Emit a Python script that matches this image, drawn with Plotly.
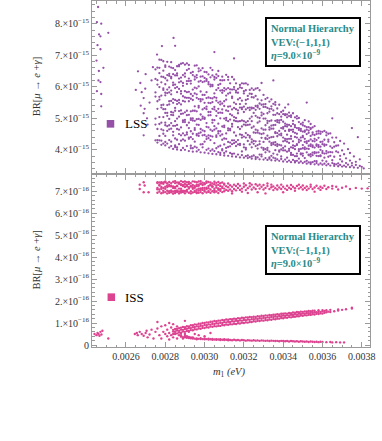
import plotly.graph_objects as go
from plotly.subplots import make_subplots

# m1 in units of 1e-4 eV; LSS branching ratio in units of 1e-15, ISS in units of 1e-16
# each entry: (m1, [BR values read in that m1 column])

lss_sparse = [
    (24.58, [8.53]), (24.52, [8.05, 5.86]), (24.74, [8.0, 5.77, 5.38]), (24.63, [7.66]),
    (24.7, [7.6, 7.19, 6.15]), (25.1, [7.71]), (24.55, [7.32]), (24.5, [6.83]),
    (24.85, [6.6]), (24.62, [6.5]), (24.6, [6.2]),
    (26.61, [6.49]), (26.73, [6.12]), (26.98, [5.94]), (26.8, [5.83]), (26.9, [5.64, 5.16, 4.46]),
    (26.75, [5.4]), (26.95, [5.3]), (27.07, [5.0]), (27.37, [6.62]), (27.58, [7.02]),
    (27.83, [7.29]), (28.42, [7.55]), (28.5, [7.3]), (27.2, [5.5]), (27.1, [4.8]),
    (27.3, [6.2]), (26.5, [5.9]), (27.0, [6.4]), (30.5, [7.1]), (31.5, [6.9]),
    (32.9, [6.12]), (33.5, [6.2]), (34.26, [5.44]), (35.2, [5.5]), (36.5, [5.0]),
    (37.5, [4.69]), (37.8, [4.4]),
]

lss_core = [
    (27.5, [4.3, 4.8, 4.99, 5.69, 5.82, 6.25, 6.55]),
    (27.6, [4.23, 4.31, 4.66, 5.3, 5.54, 6.07, 6.21, 6.61]),
    (27.7, [4.3, 4.44, 4.82, 5.04, 5.59, 5.68, 5.99, 6.43, 6.6, 6.86]),
    (27.8, [4.16, 4.29, 4.65, 4.86, 5.34, 5.42, 5.72, 6.14, 6.32, 6.85]),
    (27.9, [4.2, 4.51, 4.62, 5.04, 5.29, 5.43, 5.9, 5.95, 6.31, 6.51, 6.81]),
    (28.0, [4.14, 4.25, 4.44, 4.78, 4.86, 5.17, 5.29, 5.73, 5.81, 6.08, 6.27, 6.63, 6.68]),
    (28.1, [4.2, 4.6, 4.75, 5.08, 5.17, 5.42, 5.8, 5.91, 6.2, 6.37, 6.79]),
    (28.2, [4.07, 4.31, 4.65, 4.78, 4.98, 5.44, 5.54, 5.82, 5.98, 6.35, 6.41, 6.64]),
    (28.3, [4.12, 4.26, 4.67, 4.85, 5.11, 5.2, 5.55, 5.76, 5.88, 6.27, 6.31, 6.61, 6.78]),
    (28.4, [4.03, 4.46, 4.57, 4.76, 5.1, 5.18, 5.49, 5.61, 6.05, 6.13, 6.4, 6.59]),
    (28.5, [4.09, 4.14, 4.36, 4.76, 4.91, 5.24, 5.33, 5.58, 5.96, 6.07, 6.36, 6.53]),
    (28.6, [4.01, 4.08, 4.32, 4.66, 4.79, 4.99, 5.45, 5.55, 5.83, 5.99, 6.36, 6.42, 6.65]),
    (28.7, [4.18, 4.5, 4.64, 5.05, 5.23, 5.49, 5.58, 5.93, 6.14, 6.26, 6.65, 6.69]),
    (28.8, [3.99, 4.29, 4.46, 4.71, 5.14, 5.25, 5.44, 5.78, 5.86, 6.17, 6.29, 6.73]),
    (28.9, [4.06, 4.33, 4.52, 4.88, 4.93, 5.15, 5.55, 5.7, 6.03, 6.12, 6.37, 6.75]),
    (29.0, [4.0, 4.29, 4.46, 4.88, 4.95, 5.19, 5.53, 5.66, 5.86, 6.32, 6.42, 6.7]),
    (29.1, [4.12, 4.49, 4.55, 4.78, 5.1, 5.24, 5.65, 5.83, 6.09, 6.18, 6.53, 6.74]),
    (29.2, [3.96, 4.35, 4.39, 4.69, 4.86, 5.11, 5.54, 5.65, 5.84, 6.18, 6.26, 6.57, 6.69]),
    (29.3, [4.05, 4.13, 4.4, 4.59, 4.95, 5.0, 5.22, 5.62, 5.77, 6.1, 6.19, 6.44]),
    (29.4, [3.94, 4.05, 4.34, 4.51, 4.93, 5.0, 5.24, 5.58, 5.71, 5.91, 6.37, 6.47]),
    (29.5, [4.1, 4.26, 4.63, 4.69, 4.92, 5.24, 5.38, 5.79, 5.97, 6.23, 6.32, 6.67]),
    (29.6, [3.95, 4.07, 4.46, 4.5, 4.8, 4.97, 5.22, 5.65, 5.76, 5.95, 6.29, 6.37, 6.68]),
    (29.7, [4.0, 4.44, 4.52, 4.79, 4.98, 5.34, 5.39, 5.61, 6.01, 6.16, 6.49, 6.58]),
    (29.8, [3.92, 4.17, 4.55, 4.66, 4.95, 5.12, 5.54, 5.61, 5.85, 6.19, 6.32, 6.52]),
    (29.9, [4.08, 4.18, 4.46, 4.62, 4.99, 5.05, 5.28, 5.6, 5.74, 6.15, 6.33, 6.59]),
    (30.0, [3.91, 4.26, 4.47, 4.59, 4.98, 5.02, 5.32, 5.49, 5.74, 6.17, 6.28, 6.47]),
    (30.1, [4.0, 4.34, 4.42, 4.73, 4.85, 5.29, 5.37, 5.64, 5.83, 6.19, 6.24, 6.46]),
    (30.2, [3.89, 4.04, 4.37, 4.46, 4.71, 5.09, 5.2, 5.49, 5.66, 6.08, 6.15, 6.39]),
    (30.3, [3.97, 4.31, 4.44, 4.64, 5.1, 5.2, 5.48, 5.64, 6.01, 6.07, 6.3, 6.6]),
    (30.4, [3.87, 4.01, 4.42, 4.6, 4.86, 4.95, 5.3, 5.51, 5.63, 6.02, 6.06, 6.36, 6.53]),
    (30.5, [3.96, 4.21, 4.64, 4.75, 4.94, 5.28, 5.36, 5.67, 5.79, 6.23, 6.31]),
    (30.6, [3.86, 4.05, 4.41, 4.46, 4.68, 5.08, 5.23, 5.56, 5.65, 5.9, 6.28, 6.39]),
    (30.7, [3.93, 4.1, 4.52, 4.59, 4.83, 5.17, 5.3, 5.5, 5.96, 6.06, 6.34, 6.5]),
    (30.8, [3.84, 3.9, 4.13, 4.45, 4.59, 5.0, 5.18, 5.44, 5.53, 5.88, 6.09, 6.21]),
    (30.9, [3.98, 4.02, 4.32, 4.49, 4.74, 5.17, 5.28, 5.47, 5.81, 5.89, 6.2, 6.32]),
    (31.0, [3.82, 3.9, 4.17, 4.36, 4.72, 4.77, 4.99, 5.39, 5.54, 5.87, 5.96, 6.21]),
    (31.1, [3.95, 4.06, 4.35, 4.52, 4.94, 5.01, 5.25, 5.59, 5.72, 5.92, 6.38]),
    (31.2, [3.81, 4.09, 4.25, 4.62, 4.68, 4.91, 5.23, 5.37, 5.78, 5.96, 6.22, 6.31]),
    (31.3, [3.9, 4.11, 4.23, 4.62, 4.66, 4.96, 5.13, 5.38, 5.81, 5.92, 6.11]),
    (31.4, [3.79, 3.87, 4.18, 4.3, 4.74, 4.82, 5.09, 5.28, 5.64, 5.69, 5.91, 6.31]),
    (31.5, [3.88, 4.21, 4.3, 4.55, 4.93, 5.04, 5.33, 5.5, 5.92, 5.99, 6.23]),
    (31.6, [3.78, 4.12, 4.25, 4.45, 4.91, 5.01, 5.29, 5.45, 5.82, 5.88, 6.11]),
    (31.7, [3.85, 4.17, 4.31, 4.72, 4.9, 5.16, 5.25, 5.6, 5.81, 5.93]),
    (31.8, [3.76, 4.15, 4.19, 4.49, 4.66, 4.91, 5.34, 5.45, 5.64, 5.98, 6.06]),
    (31.9, [3.83, 3.95, 4.39, 4.47, 4.74, 4.93, 5.29, 5.34, 5.56, 5.96, 6.11]),
    (32.0, [3.75, 4.08, 4.17, 4.42, 4.8, 4.91, 5.2, 5.37, 5.79, 5.86, 6.1]),
    (32.1, [3.8, 4.01, 4.06, 4.39, 4.53, 4.78, 4.87, 5.28, 5.46, 5.58, 5.89, 6.11]),
    (32.2, [3.74, 3.82, 4.28, 4.47, 4.79, 4.91, 5.33, 5.61, 5.71, 6.07]),
    (32.3, [3.77, 4.17, 4.39, 4.44, 4.8, 4.99, 5.26, 5.34, 5.78, 5.9]),
    (32.4, [3.72, 3.79, 4.08, 4.24, 4.33, 4.7, 4.91, 5.05, 5.31, 5.34, 5.67, 5.77, 5.95]),
    (32.5, [3.82, 4.19, 4.28, 4.55, 4.74, 5.17, 5.32, 5.66, 5.9]),
    (32.6, [3.71, 3.77, 4.12, 4.27, 4.54, 4.64, 5.08, 5.27, 5.39, 5.71, 5.94]),
    (32.7, [3.76, 4.04, 4.15, 4.55, 4.62, 4.86, 5.03, 5.35, 5.4, 5.6, 5.96]),
    (32.8, [3.7, 3.85, 4.18, 4.27, 4.52, 4.9, 5.01, 5.3, 5.47, 5.89]),
    (32.9, [3.79, 3.85, 4.07, 4.38, 4.5, 4.68, 5.09, 5.18, 5.43, 5.57]),
    (33.0, [3.69, 4.0, 4.05, 4.25, 4.52, 4.64, 4.99, 5.14, 5.36, 5.44, 5.74]),
    (33.1, [3.74, 3.92, 4.02, 4.35, 4.38, 4.64, 4.78, 4.99, 5.36, 5.45, 5.61]),
    (33.2, [3.68, 3.99, 4.06, 4.34, 4.45, 4.85, 4.92, 5.16, 5.33, 5.65]),
    (33.3, [3.72, 3.76, 3.94, 4.26, 4.38, 4.64, 4.71, 4.91, 5.21, 5.3, 5.53]),
    (33.4, [3.67, 3.81, 4.15, 4.21, 4.4, 4.67, 4.77, 4.93, 5.3, 5.38, 5.6]),
    (33.5, [3.75, 3.88, 4.18, 4.23, 4.41, 4.67, 4.78, 5.11, 5.25, 5.46]),
    (33.6, [3.66, 3.73, 3.99, 4.15, 4.24, 4.53, 4.56, 4.79, 4.92, 5.11, 5.43, 5.51]),
    (33.7, [3.7, 3.85, 4.12, 4.18, 4.43, 4.53, 4.88, 4.94, 5.16, 5.31]),
    (33.8, [3.65, 3.94, 3.98, 4.16, 4.48, 4.6, 4.86, 4.93, 5.13, 5.43]),
    (33.9, [3.71, 3.79, 4.01, 4.14, 4.46, 4.51, 4.69, 4.95, 5.05, 5.2]),
    (34.0, [3.63, 3.98, 4.06, 4.27, 4.39, 4.67, 4.72, 4.89, 5.13, 5.24]),
    (34.1, [3.69, 3.98, 4.11, 4.29, 4.35, 4.6, 4.75, 4.83, 5.1, 5.13, 5.34]),
    (34.2, [3.62, 3.75, 3.94, 4.26, 4.34, 4.48, 4.74, 4.8, 5.03, 5.12]),
    (34.3, [3.66, 3.97, 4.03, 4.22, 4.35, 4.6, 4.64, 4.79, 5.07, 5.18]),
    (34.4, [3.61, 3.84, 3.9, 4.08, 4.35, 4.43, 4.63, 4.75, 5.04, 5.09]),
    (34.5, [3.68, 3.84, 4.06, 4.14, 4.27, 4.57, 4.64, 4.82, 4.92, 5.16]),
    (34.6, [3.6, 3.64, 3.8, 4.02, 4.12, 4.41, 4.54, 4.72, 4.78, 5.03]),
    (34.7, [3.65, 3.8, 3.88, 4.15, 4.18, 4.39, 4.51, 4.69, 4.99, 5.07]),
    (34.8, [3.59, 3.72, 3.96, 4.02, 4.24, 4.32, 4.63, 4.69, 4.88, 5.01]),
    (34.9, [3.63, 3.86, 3.89, 4.03, 4.29, 4.39, 4.6, 4.66, 4.82]),
    (35.0, [3.58, 3.81, 3.88, 4.05, 4.15, 4.4, 4.44, 4.58, 4.78, 4.86]),
    (35.1, [3.62, 3.74, 4.02, 4.08, 4.25, 4.35, 4.57, 4.61, 4.75, 4.94]),
    (35.2, [3.56, 3.65, 3.92, 4.04, 4.21, 4.27, 4.5, 4.64, 4.72]),
    (35.3, [3.6, 3.83, 3.85, 4.03, 4.13, 4.28, 4.54, 4.61, 4.72, 4.9]),
    (35.4, [3.55, 3.6, 3.79, 3.86, 4.12, 4.17, 4.33, 4.44, 4.66, 4.69, 4.82]),
    (35.5, [3.61, 3.83, 3.91, 4.09, 4.14, 4.28, 4.49, 4.55, 4.71]),
    (35.6, [3.54, 3.64, 3.89, 3.93, 4.07, 4.27, 4.35, 4.47, 4.75]),
    (35.7, [3.58, 3.64, 3.81, 3.91, 4.13, 4.17, 4.31, 4.5, 4.58]),
    (35.8, [3.53, 3.8, 3.92, 4.09, 4.15, 4.38, 4.52, 4.6]),
    (35.9, [3.57, 3.8, 3.82, 4.0, 4.1, 4.25, 4.51, 4.58]),
    (36.0, [3.53, 3.66, 3.9, 3.96, 4.18, 4.26, 4.57]),
    (36.1, [3.56, 3.75, 3.88, 4.13, 4.17, 4.32, 4.6]),
    (36.2, [3.51, 3.63, 3.89, 3.96, 4.16, 4.46, 4.55]),
    (36.3, [3.55, 3.78, 3.92, 4.26, 4.32, 4.51]),
    (36.4, [3.5, 3.81, 3.93, 4.11, 4.52]),
    (36.5, [3.58, 3.67, 3.92, 4.06, 4.39]),
    (36.6, [3.49, 3.55, 3.78, 4.1, 4.24]),
    (36.7, [3.54, 3.95, 4.13, 4.39]),
    (36.8, [3.48, 3.57, 3.92, 4.14]),
    (36.9, [3.52, 3.7, 3.81, 4.28]),
    (37.0, [3.47, 3.63, 3.98]),
    (37.1, [3.5, 3.86, 4.2]),
    (37.2, [3.46, 3.58, 3.73]),
    (37.3, [3.53, 4.02]),
    (37.4, [3.45, 3.66, 3.9]),
    (37.5, [3.5, 3.58]),
    (37.6, [3.44, 3.79]),
    (37.7, [3.52, 3.62]),
    (37.8, [3.43]),
    (37.9, [3.49, 3.7]),
    (38.0, [3.46]),
    (38.1, [3.41]),
]

iss_band = [
    (26.7, [7.1, 7.3]), (26.9, [7.41, 6.95]), (26.95, [7.26]), (27.15, [6.95]),
    (27.6, [6.93, 7.09, 7.15, 7.37, 7.41]), (27.7, [6.98, 7.08, 7.26, 7.29, 7.4]),
    (27.8, [6.91, 7.11, 7.19, 7.36, 7.41]), (27.9, [6.94, 7.02, 7.15, 7.34, 7.4]),
    (28.0, [6.96, 7.11, 7.2, 7.41, 7.45]), (28.1, [6.9, 7.02, 7.19, 7.26, 7.36]),
    (28.2, [6.93, 7.0, 7.23, 7.28, 7.42]), (28.3, [6.95, 7.03, 7.22, 7.25, 7.37]),
    (28.4, [6.89, 6.99, 7.15, 7.22, 7.43]), (28.5, [6.92, 7.01, 7.14, 7.19, 7.37, 7.46]),
    (28.6, [6.97, 7.03, 7.23, 7.25, 7.4]), (28.7, [6.9, 6.99, 7.12, 7.34, 7.4]),
    (28.8, [6.94, 7.01, 7.11, 7.28, 7.32, 7.46]), (28.9, [6.96, 7.02, 7.24, 7.28, 7.42]),
    (29.0, [6.91, 7.01, 7.19, 7.22, 7.33, 7.44]), (29.1, [6.98, 7.06, 7.23, 7.28, 7.41]),
    (29.2, [6.93, 7.12, 7.18, 7.33, 7.42]), (29.3, [6.9, 7.0, 7.21, 7.25, 7.37]),
    (29.4, [6.94, 7.11, 7.18, 7.28, 7.45]), (29.5, [6.97, 7.02, 7.16, 7.24, 7.43]),
    (29.6, [6.92, 6.95, 7.07, 7.23, 7.3, 7.41]), (29.7, [6.93, 7.03, 7.12, 7.25, 7.3, 7.44]),
    (29.8, [6.96, 7.07, 7.13, 7.33, 7.35, 7.46]), (29.9, [6.91, 7.06, 7.15, 7.28, 7.39]),
    (30.0, [6.99, 7.05, 7.15, 7.32, 7.36]), (30.1, [6.94, 7.1, 7.16, 7.38, 7.45]),
    (30.2, [6.97, 7.01, 7.14, 7.24, 7.42]), (30.3, [6.93, 7.08, 7.27, 7.3, 7.4]),
    (30.4, [7.0, 7.19, 7.23, 7.35]), (30.5, [6.95, 7.04, 7.11, 7.32, 7.43]),
    (30.6, [6.99, 7.17, 7.26, 7.38]), (30.7, [6.92, 7.07, 7.13, 7.29, 7.42]),
    (30.8, [7.02, 7.09, 7.24, 7.36]), (30.9, [6.96, 7.15, 7.21, 7.4]),
    (31.0, [7.0, 7.12, 7.3, 7.34]), (31.1, [7.06, 7.23]), (31.2, [7.02, 7.18, 7.35]),
    (31.3, [7.08, 7.27]), (31.4, [7.0, 7.2, 6.9]), (31.5, [7.1, 7.3]),
    (31.6, [7.04, 7.24]), (31.7, [7.15, 7.33]), (31.8, [7.06, 7.25]),
    (31.9, [7.12, 6.98]), (32.0, [7.2, 7.35]), (32.1, [7.05, 7.27]),
    (32.2, [7.14, 6.92]), (32.3, [7.22, 7.36]), (32.4, [7.08, 7.3]),
    (32.5, [7.17]), (32.6, [7.1, 7.32]), (32.7, [7.25, 6.95]), (32.8, [7.12, 7.3]),
    (32.9, [7.2]), (33.0, [7.08, 7.28]), (33.1, [7.15, 6.9]), (33.2, [7.24, 7.35]),
    (33.3, [7.1]), (33.4, [7.18, 7.3]), (33.5, [7.05, 7.22]), (33.6, [7.14]),
    (33.7, [7.26, 7.08]), (33.8, [7.17]), (33.9, [7.1, 7.3]), (34.0, [7.2, 6.95]),
    (34.1, [7.12]), (34.2, [7.25, 7.06]), (34.3, [7.16]), (34.4, [7.1, 7.28]),
    (34.5, [7.2]), (34.6, [7.14, 7.02]), (34.7, [7.24]), (34.8, [7.12, 7.3]),
    (34.9, [7.18]), (35.0, [7.08, 7.26]), (35.1, [7.15]), (35.2, [7.22, 7.05]),
    (35.3, [7.12]), (35.4, [7.2, 7.3]), (35.5, [7.1]), (35.6, [7.17, 6.98]),
    (35.7, [7.25]), (35.8, [7.13]), (35.9, [7.2, 7.06]), (36.0, [7.15]),
    (36.1, [7.25]), (36.2, [7.1]), (36.3, [7.18]), (36.5, [7.12, 7.24]),
    (36.7, [7.2]), (36.8, [7.08]), (37.0, [7.16]), (37.2, [7.22]), (37.4, [7.1]),
    (37.7, [7.15]), (38.0, [7.12]), (38.3, [7.13]),
]

iss_cloud = [
    (24.4, [0.5]), (24.5, [0.45]), (24.55, [0.55]), (24.6, [0.5]), (24.65, [0.42]),
    (24.7, [0.6]), (24.75, [0.48]), (24.8, [0.65]), (25.1, [0.3]),
    (26.45, [0.5]), (26.55, [0.55]), (26.6, [0.45]), (26.7, [0.6]), (26.8, [0.5]),
    (26.9, [0.42]), (27.0, [0.55]), (27.05, [0.65]), (27.1, [0.35]), (27.2, [0.48]),
    (27.3, [0.7]), (27.4, [0.3]), (27.5, [0.6]), (27.6, [0.75, 1.05]), (27.7, [0.45]),
    (27.8, [0.85, 0.3]), (27.9, [0.6]), (28.0, [0.5, 0.9]), (28.1, [0.4, 0.7]),
    (28.2, [0.25, 0.55, 1.0]), (28.3, [0.8, 0.45]), (28.4, [0.35, 0.95]),
    (28.5, [0.5]), (28.6, [0.3, 0.85]), (28.7, [0.45]), (28.8, [0.55]), (28.9, [0.3]),
    (29.0, [0.5, 1.1]), (29.1, [0.4]), (29.2, [0.6]), (29.3, [0.35]), (29.5, [0.5]),
    (29.7, [0.45]), (30.0, [0.4]), (30.3, [0.55]),
]

iss_upper_arm = [
    (28.4, [0.5, 0.61, 0.69]), (28.5, [0.54, 0.62, 0.73]), (28.6, [0.53, 0.66, 0.74]),
    (28.7, [0.57, 0.65, 0.77]), (28.8, [0.56, 0.7, 0.79]), (28.9, [0.61, 0.69, 0.82]),
    (29.0, [0.6, 0.73, 0.81]), (29.1, [0.64, 0.74, 0.86]), (29.2, [0.65, 0.78, 0.85]),
    (29.3, [0.68, 0.77, 0.9]), (29.4, [0.67, 0.81, 0.9]), (29.5, [0.72, 0.82, 0.94]),
    (29.6, [0.71, 0.85, 0.93]), (29.7, [0.75, 0.84, 0.97]), (29.8, [0.74, 0.88, 0.97]),
    (29.9, [0.78, 0.87, 1.0]), (30.0, [0.77, 0.91, 1.0]), (30.1, [0.81, 0.9, 1.03]),
    (30.2, [0.8, 0.94, 1.03]), (30.3, [0.84, 0.93, 1.06]), (30.4, [0.83, 0.97, 1.06]),
    (30.5, [0.86, 0.96, 1.09]), (30.6, [0.85, 0.99, 1.08]), (30.7, [0.88, 0.98, 1.11]),
    (30.8, [0.87, 1.01, 1.11]), (30.9, [0.91, 1.0, 1.14]), (31.0, [0.9, 1.04, 1.13]),
    (31.1, [0.93, 1.03, 1.16]), (31.2, [0.92, 1.06, 1.15]), (31.3, [0.95, 1.05, 1.18]),
    (31.4, [0.94, 1.08, 1.17]), (31.5, [0.97, 1.07, 1.2]), (31.6, [0.96, 1.1, 1.19]),
    (31.7, [0.99, 1.09, 1.22]), (31.8, [0.98, 1.12, 1.21]), (31.9, [1.01, 1.11, 1.24]),
    (32.0, [1.0, 1.14, 1.23]), (32.1, [1.03, 1.13, 1.26]), (32.2, [1.02, 1.16, 1.25]),
    (32.3, [1.05, 1.15, 1.28]), (32.4, [1.05, 1.18, 1.27]), (32.5, [1.08, 1.17, 1.29]),
    (32.6, [1.07, 1.2, 1.28]), (32.7, [1.1, 1.19, 1.31]), (32.8, [1.09, 1.22, 1.3]),
    (32.9, [1.12, 1.21, 1.33]), (33.0, [1.11, 1.24, 1.32]), (33.1, [1.14, 1.23, 1.35]),
    (33.2, [1.13, 1.26, 1.34]), (33.3, [1.16, 1.25, 1.37]), (33.4, [1.15, 1.28, 1.36]),
    (33.5, [1.18, 1.27, 1.38]), (33.6, [1.17, 1.3, 1.38]), (33.7, [1.2, 1.29, 1.4]),
    (33.8, [1.2, 1.32, 1.39]), (33.9, [1.23, 1.31, 1.42]), (34.0, [1.22, 1.34, 1.42]),
    (34.1, [1.25, 1.33, 1.44]), (34.2, [1.24, 1.36, 1.43]), (34.3, [1.27, 1.35, 1.46]),
    (34.4, [1.26, 1.38, 1.45]), (34.5, [1.29, 1.37, 1.48]), (34.6, [1.29, 1.4, 1.47]),
    (34.7, [1.31, 1.39, 1.5]), (34.8, [1.31, 1.42, 1.49]), (34.9, [1.34, 1.41, 1.52]),
    (35.0, [1.33, 1.44, 1.51]), (35.1, [1.36, 1.43, 1.53]), (35.2, [1.35, 1.46, 1.53]),
    (35.3, [1.38, 1.45, 1.55]), (35.4, [1.37, 1.47, 1.54]), (35.5, [1.4, 1.47, 1.56]),
    (35.6, [1.39, 1.49, 1.56]), (35.7, [1.42, 1.49]), (35.8, [1.41, 1.51, 1.58]),
    (35.9, [1.44, 1.5]), (36.0, [1.43, 1.53, 1.59]), (36.1, [1.47, 1.55]),
    (36.2, [1.49, 1.58]), (36.3, [1.52]), (36.4, [1.5, 1.6]), (36.6, [1.54]),
    (36.8, [1.57, 1.62]), (37.0, [1.6]), (37.2, [1.63]), (37.5, [1.66, 1.7]),
]

iss_lower_arm = [
    (28.8, [0.38, 0.45]), (28.9, [0.36]), (29.0, [0.35, 0.41]), (29.1, [0.33]),
    (29.2, [0.32, 0.37]), (29.3, [0.31]), (29.4, [0.3, 0.35]), (29.5, [0.29]),
    (29.6, [0.3, 0.26]), (29.7, [0.28]), (29.8, [0.27, 0.31]), (29.9, [0.27]),
    (30.0, [0.26, 0.3]), (30.1, [0.27]), (30.2, [0.25, 0.29]), (30.3, [0.26]),
    (30.4, [0.24, 0.28]), (30.5, [0.25]), (30.6, [0.24, 0.27]), (30.7, [0.25]),
    (30.8, [0.23, 0.26]), (30.9, [0.24]), (31.0, [0.23, 0.26]), (31.1, [0.24]),
    (31.2, [0.22, 0.25]), (31.3, [0.23]), (31.4, [0.22]), (31.5, [0.24]),
    (31.6, [0.22]), (31.7, [0.23]), (31.8, [0.21]), (31.9, [0.23]), (32.0, [0.22]),
    (32.1, [0.2]), (32.2, [0.22]), (32.3, [0.21]), (32.4, [0.2]), (32.5, [0.22]),
    (32.6, [0.2]), (32.7, [0.21]), (32.8, [0.19]), (32.9, [0.21]), (33.0, [0.2]),
    (33.1, [0.19]), (33.2, [0.2]), (33.3, [0.18]), (33.4, [0.2]), (33.5, [0.19]),
    (33.6, [0.18]), (33.7, [0.19]), (33.8, [0.17]), (33.9, [0.19]), (34.0, [0.18]),
    (34.1, [0.17]), (34.2, [0.18]), (34.3, [0.16]), (34.4, [0.18]), (34.5, [0.17]),
    (34.6, [0.16]), (34.7, [0.17]), (34.8, [0.15]), (34.9, [0.17]), (35.0, [0.16]),
    (35.1, [0.15]), (35.2, [0.16]), (35.3, [0.14]), (35.4, [0.16]), (35.5, [0.15]),
    (35.6, [0.14]), (35.7, [0.15]), (35.8, [0.13]), (35.9, [0.15]), (36.0, [0.14]),
    (36.2, [0.13]), (36.4, [0.14]), (36.5, [0.12]), (36.7, [0.13]), (36.9, [0.12]),
    (37.1, [0.12]),
]

lss_ticks = [4, 5, 6, 7, 8]
iss_ticks = [0, 1, 2, 3, 4, 5, 6, 7]
m1_ticks = [0.0026, 0.0028, 0.0030, 0.0032, 0.0034, 0.0036, 0.0038]

PURPLE = "#9550a8"
PINK = "#dc4390"
TEAL = "#2a8a86"
FRAME = "#9a9a9a"
SERIF = "Liberation Serif"


def flatten(groups, yscale):
    xs, ys = [], []
    for group in groups:
        for m1, vals in group:
            for v in vals:
                xs.append(m1 * 1e-4)
                ys.append(v * yscale)
    return xs, ys


lss_x, lss_y = flatten([lss_sparse, lss_core], 1e-15)
iss_x, iss_y = flatten([iss_band, iss_cloud, iss_upper_arm, iss_lower_arm], 1e-16)

fig = make_subplots(rows=2, cols=1, shared_xaxes=True, vertical_spacing=0.003)

fig.add_trace(go.Scatter(x=lss_x, y=lss_y, mode="markers", name="LSS",
                         marker=dict(color=PURPLE, size=2.3, line_width=0)),
              row=1, col=1)
fig.add_trace(go.Scatter(x=iss_x, y=iss_y, mode="markers", name="ISS",
                         marker=dict(color=PINK, size=2.4, line_width=0)),
              row=2, col=1)

axis_common = dict(showline=True, linecolor=FRAME, linewidth=1, mirror="ticks",
                   ticks="inside", ticklen=5, tickcolor=FRAME, showgrid=False,
                   zeroline=False, tickfont=dict(family=SERIF, size=10, color="#333"))

fig.update_xaxes(range=[0.002427, 0.003842], tickvals=m1_ticks,
                 ticktext=["%.4f" % v for v in m1_ticks],
                 minor=dict(ticks="inside", ticklen=2.5, tickcolor=FRAME,
                            tickmode="linear", tick0=0.0026, dtick=0.00005),
                 **axis_common)
fig.update_xaxes(showticklabels=False, row=1, col=1)

fig.update_yaxes(range=[3.25e-15, 8.72e-15], tickvals=[v * 1e-15 for v in lss_ticks],
                 ticktext=["%d.\u00d710<sup>\u221215</sup>" % v for v in lss_ticks],
                 minor=dict(ticks="inside", ticklen=2.5, tickcolor=FRAME,
                            tickmode="linear", tick0=0, dtick=0.2e-15),
                 row=1, col=1, **axis_common)
fig.update_yaxes(range=[-0.09e-16, 7.76e-16], tickvals=[v * 1e-16 for v in iss_ticks],
                 ticktext=["0" if v == 0 else "%d.\u00d710<sup>\u221216</sup>" % v
                           for v in iss_ticks],
                 minor=dict(ticks="inside", ticklen=2.5, tickcolor=FRAME,
                            tickmode="linear", tick0=0, dtick=0.2e-16),
                 row=2, col=1, **axis_common)

box_text = ("<b>Normal Hierarchy</b><br><b>VEV:(\u22121,1,1)</b><br>"
            "<b><i>\u03b7</i>=9.0\u00d710<sup>\u22129</sup></b>")
ytitle = "BR[<i>\u03bc</i> \u2192 <i>e</i> +<i>\u03b3</i>]"

annotations = [
    dict(text=box_text, x=0.622, y=0.954, xanchor="left", yanchor="top"),
    dict(text=box_text, x=0.622, y=0.353, xanchor="left", yanchor="top"),
]
for a in annotations:
    a.update(xref="paper", yref="paper", showarrow=False, align="left",
             font=dict(family=SERIF, size=10.5, color=TEAL),
             bordercolor="black", borderwidth=2, borderpad=4, bgcolor="white")

annotations += [
    dict(text="LSS", x=0.112, y=0.645, xanchor="left", yanchor="middle",
         xref="paper", yref="paper", showarrow=False,
         font=dict(family=SERIF, size=13, color="black")),
    dict(text="ISS", x=0.112, y=0.143, xanchor="left", yanchor="middle",
         xref="paper", yref="paper", showarrow=False,
         font=dict(family=SERIF, size=13, color="black")),
    dict(text=ytitle, x=-0.201, y=0.751, textangle=-90, xref="paper", yref="paper",
         xanchor="center", yanchor="middle", showarrow=False,
         font=dict(family=SERIF, size=10.5, color="#333")),
    dict(text=ytitle, x=-0.201, y=0.25, textangle=-90, xref="paper", yref="paper",
         xanchor="center", yanchor="middle", showarrow=False,
         font=dict(family=SERIF, size=10.5, color="#333")),
    dict(text="<i>m</i><sub>1</sub> <i>(eV)</i>", x=0.493, y=-0.075,
         xref="paper", yref="paper", showarrow=False, xanchor="center", yanchor="middle",
         font=dict(family=SERIF, size=10.5, color="#333")),
]

shapes = [
    dict(type="rect", xref="paper", yref="paper", x0=0.053, x1=0.080, y0=0.634, y1=0.656,
         fillcolor=PURPLE, line_width=0),
    dict(type="rect", xref="paper", yref="paper", x0=0.056, x1=0.083, y0=0.133, y1=0.155,
         fillcolor=PINK, line_width=0),
]

fig.update_layout(width=382, height=441, showlegend=False,
                  margin=dict(l=92, r=12, t=1, b=94),
                  paper_bgcolor="white", plot_bgcolor="white",
                  annotations=annotations, shapes=shapes)

fig.write_html("out.html", config={"displayModeBar": False},
               post_script="document.body.style.margin = '0px';")
